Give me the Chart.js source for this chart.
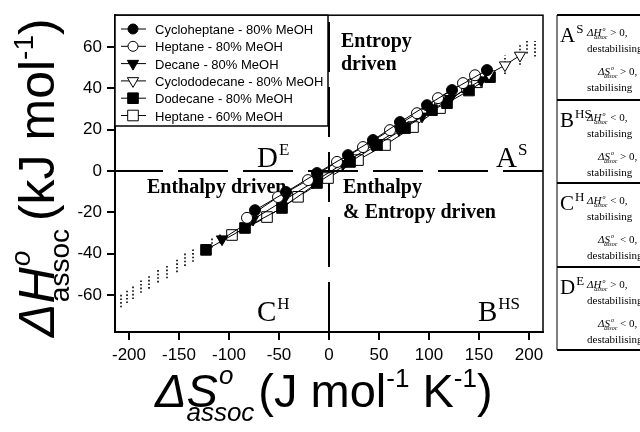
<!DOCTYPE html>
<html>
<head>
<meta charset="utf-8">
<script src="https://cdn.jsdelivr.net/npm/chart.js@4.4.1/dist/chart.umd.min.js"></script>
<style>
  html, body { margin: 0; padding: 0; background: #fff; }
</style>
</head>
<body>
<canvas id="chart" width="640" height="432"></canvas>
<script>
const SANS = '"Liberation Sans", Arial, sans-serif'
const SERIF = '"Liberation Serif", "Times New Roman", serif'

// axis ticks
const xTicks = [-200, -150, -100, -50, 0, 50, 100, 150, 200]
const yTicks = [-60, -40, -20, 0, 20, 40, 60]

// series: dS (J mol-1 K-1) and dH (kJ mol-1)
const names = ['Cycloheptane - 80% MeOH', 'Heptane - 80% MeOH', 'Decane - 80% MeOH',
  'Cyclododecane - 80% MeOH', 'Dodecane - 80% MeOH', 'Heptane - 60% MeOH']

const cycloheptaneS = [-74, -43, -12, 19, 44, 71, 98, 123, 158]
const cycloheptaneH = [-19, -10.2, -1, 7.7, 15, 23.7, 31.9, 39.2, 48.9]

const heptane80S = [-82, -51, -21, 8, 34, 61, 88, 109, 134, 146]
const heptane80H = [-22.7, -12.6, -4.4, 4.4, 11.6, 19.8, 28, 35.3, 42.6, 46.4]

const decaneS = [-107, -76, -46, -16, 14, 44, 70, 93, 121, 152]
const decaneH = [-33, -23.5, -14.5, -5.5, 3.5, 12.5, 20, 26.5, 35, 44]

const cyclododecaneS = [160, 176, 191]
const cyclododecaneH = [47, 51.3, 56]

const dodecaneS = [-123, -84, -47, -12, 21, 48, 76, 103, 118, 140, 161]
const dodecaneH = [-38.2, -27.6, -17.9, -5.8, 4.4, 12.6, 20.8, 29.5, 32.9, 39, 45.5]

const heptane60S = [-97, -62, -31, -1, 29, 56, 84, 111, 138, 148]
const heptane60H = [-31, -22.3, -12.5, -3.4, 5.3, 12.6, 21.3, 30.5, 40.6, 43]

// dotted error bars
const errS = [-208, -202, -196, -188, -180, -171, -162, -152, -144, -136, -117, -109, 176, 191, 198, 206]
const errLow = [-66, -64, -62, -59, -57, -54, -52, -49, -46, -44, -37, -35, 47, 51.5, 57, 55.5]
const errHigh = [-59, -57, -55, -53, -50, -48, -45, -42, -40, -37, -32, -30, 56, 61, 64, 63]

// side table
const panelTag = ['A', 'B', 'C', 'D']
const panelSup = ['S', 'HS', 'H', 'E']
const panelH = ['> 0,', '< 0,', '< 0,', '> 0,']
const panelHText = ['destabilising', 'stabilising', 'stabilising', 'destabilising']
const panelS = ['> 0,', '> 0,', '< 0,', '< 0,']
const panelSText = ['stabilising', 'stabilising', 'destabilising', 'destabilising']

const styles = [
  { style: 'circle', fill: '#000', r: 5.5 },
  { style: 'circle', fill: '#fff', r: 5.5 },
  { style: 'triangle', fill: '#000', r: 6.5, rot: 180 },
  { style: 'triangle', fill: '#fff', r: 6.5, rot: 180 },
  { style: 'rect', fill: '#000', r: 7.5 },
  { style: 'rect', fill: '#fff', r: 7.5 }
]
const sets = [
  [cycloheptaneS, cycloheptaneH], [heptane80S, heptane80H], [decaneS, decaneH],
  [cyclododecaneS, cyclododecaneH], [dodecaneS, dodecaneH], [heptane60S, heptane60H]
]

const datasets = sets.map((s, i) => ({
  label: names[i],
  data: s[0].map((v, j) => ({ x: v, y: s[1][j] })),
  showLine: true,
  borderColor: '#000',
  borderWidth: 1,
  pointStyle: styles[i].style,
  pointRotation: styles[i].rot || 0,
  pointRadius: styles[i].r,
  pointBackgroundColor: styles[i].fill,
  pointBorderColor: '#000',
  pointBorderWidth: 1
}))

const errData = []
errS.forEach((s, i) => {
  errData.push({ x: s, y: errLow[i] }, { x: s, y: errHigh[i] }, { x: s, y: null })
})
datasets.push({
  label: 'err',
  data: errData,
  showLine: true,
  spanGaps: false,
  borderColor: '#000',
  borderWidth: 1.6,
  borderDash: [1.6, 2],
  pointRadius: 0
})

function marker (ctx, st, x, y) {
  ctx.save()
  ctx.fillStyle = st.fill
  ctx.strokeStyle = '#000'
  ctx.lineWidth = 1
  ctx.beginPath()
  if (st.style === 'circle') {
    ctx.arc(x, y, st.r - 0.5, 0, Math.PI * 2)
  } else if (st.style === 'rect') {
    const h = st.r * Math.SQRT1_2
    ctx.rect(x - h, y - h, 2 * h, 2 * h)
  } else {
    const r = st.r
    ctx.moveTo(x, y + r)
    ctx.lineTo(x - r * 0.866, y - r * 0.5)
    ctx.lineTo(x + r * 0.866, y - r * 0.5)
    ctx.closePath()
  }
  ctx.fill()
  ctx.stroke()
  ctx.restore()
}

// ΔX°assoc with superscript and subscript, returns end x
function quantity (ctx, x, y, letter, size, font, subItalic) {
  ctx.font = 'italic ' + size + 'px ' + font
  ctx.fillText('\u0394' + letter, x, y)
  const w = ctx.measureText('\u0394' + letter).width
  const small = Math.round(size * 0.55)
  ctx.font = 'italic ' + small + 'px ' + font
  ctx.fillText('o', x + w + 1, y - size * 0.48)
  const wo = ctx.measureText('o').width
  ctx.font = (subItalic ? 'italic ' : '') + small + 'px ' + font
  const sx = x + w * 0.5
  ctx.fillText('assoc', sx, y + size * 0.3)
  const ws = ctx.measureText('assoc').width
  return Math.max(x + w + 1 + wo, sx + ws)
}

function runs (ctx, x, y, size, font, parts) {
  parts.forEach(p => {
    const sz = p[1] ? Math.round(size * 0.55) : size
    ctx.font = sz + 'px ' + font
    ctx.fillText(p[0], x, y - (p[1] ? size * 0.42 : 0))
    x += ctx.measureText(p[0]).width
  })
  return x
}

function tagText (ctx, x, y, tag, sup, size) {
  ctx.font = size + 'px ' + SERIF
  ctx.fillText(tag, x, y)
  const w = ctx.measureText(tag).width
  ctx.font = Math.round(size * 0.6) + 'px ' + SERIF
  ctx.fillText(sup, x + w + 1, y - size * 0.42)
}

const decor = {
  id: 'decor',
  beforeDatasetsDraw (chart) {
    const { ctx, chartArea: a, scales: { x, y } } = chart
    const x0 = x.getPixelForValue(0)
    const y0 = y.getPixelForValue(0)
    ctx.save()
    ctx.strokeStyle = '#000'
    ctx.lineWidth = 2
    ctx.setLineDash([50, 15])
    ctx.lineDashOffset = 2
    ctx.beginPath(); ctx.moveTo(a.left, y0); ctx.lineTo(a.right, y0); ctx.stroke()
    ctx.lineDashOffset = 0
    ctx.beginPath(); ctx.moveTo(x0, a.bottom); ctx.lineTo(x0, a.top); ctx.stroke()
    ctx.setLineDash([])
    ctx.lineWidth = 1.5
    ctx.strokeRect(a.left, a.top, a.right - a.left, a.bottom - a.top)

    ctx.fillStyle = '#000'
    ctx.textBaseline = 'alphabetic'
    ctx.textAlign = 'left'
    ctx.font = 'bold 20px ' + SERIF
    ctx.fillText('Entropy', 341, 47)
    ctx.fillText('driven', 341, 70)
    ctx.fillText('Enthalpy driven', 147, 193)
    ctx.fillText('Enthalpy', 343, 193)
    ctx.fillText('& Entropy driven', 343, 218)
    tagText(ctx, 257, 167, 'D', 'E', 29)
    tagText(ctx, 496, 167, 'A', 'S', 29)
    tagText(ctx, 257, 321, 'C', 'H', 29)
    tagText(ctx, 478, 321, 'B', 'HS', 29)
    ctx.restore()
  },
  afterDraw (chart) {
    const { ctx, chartArea: a } = chart
    ctx.save()
    ctx.fillStyle = '#000'
    ctx.strokeStyle = '#000'
    ctx.textBaseline = 'alphabetic'
    ctx.textAlign = 'left'

    // legend box
    const lt = a.top, lb = 126, ll = a.left, lr = 328
    ctx.fillStyle = '#fff'
    ctx.fillRect(ll, lt, lr - ll, lb - lt)
    ctx.lineWidth = 1.5
    ctx.strokeRect(ll, lt, lr - ll, lb - lt)
    names.forEach((n, i) => {
      const yy = 29 + i * 17.3
      ctx.fillStyle = '#fff'
      ctx.font = '13px ' + SANS
      const w = ctx.measureText(n).width
      ctx.fillRect(153, yy - 8, w + 4, 16)
      ctx.beginPath(); ctx.lineWidth = 1
      ctx.moveTo(121, yy); ctx.lineTo(146, yy); ctx.stroke()
      marker(ctx, styles[i], 133, yy)
      ctx.fillStyle = '#000'
      ctx.fillText(n, 155, yy + 5)
    })

    // axis titles
    ctx.fillStyle = '#000'
    let ex = quantity(ctx, 155, 407, 'S', 47, SANS, true)
    runs(ctx, ex + 4, 407, 47, SANS, [['(J mol', 0], ['-1', 1], [' K', 0], ['-1', 1], [')', 0]])

    ctx.save()
    ctx.translate(54, 337)
    ctx.rotate(-Math.PI / 2)
    ex = quantity(ctx, 0, 0, 'H', 50, SANS, false)
    runs(ctx, ex + 8, 0, 50, SANS, [['(kJ mol', 0], ['-1', 1], [')', 0]])
    ctx.restore()

    // side table
    const pl = 557
    const rows = [15, 100, 183, 267, 350]
    ctx.lineWidth = 1
    ctx.beginPath(); ctx.moveTo(pl, rows[0]); ctx.lineTo(pl, rows[4]); ctx.stroke()
    ctx.lineWidth = 2
    rows.forEach(r => { ctx.beginPath(); ctx.moveTo(pl, r); ctx.lineTo(640, r); ctx.stroke() })
    panelTag.forEach((t, i) => {
      const T = rows[i]
      ctx.fillStyle = '#000'
      tagText(ctx, pl + 3, T + 27, t, panelSup[i], 21)
      let e = quantity(ctx, 587, T + 21, 'H', 11, SERIF, true)
      ctx.font = '11px ' + SERIF
      ctx.fillText(' ' + panelH[i], e, T + 21)
      ctx.fillText(panelHText[i], 587, T + 37)
      e = quantity(ctx, 598, T + 60, 'S', 11, SERIF, true)
      ctx.font = '11px ' + SERIF
      ctx.fillText(' ' + panelS[i], e, T + 60)
      ctx.fillText(panelSText[i], 587, T + 76)
    })
    ctx.restore()
  }
}

new Chart(document.getElementById('chart'), {
  type: 'scatter',
  data: { datasets: datasets },
  options: {
    responsive: false,
    animation: false,
    devicePixelRatio: 1,
    layout: { padding: { top: 15, right: 97, left: 0, bottom: 0 } },
    plugins: { legend: { display: false }, tooltip: { enabled: false } },
    scales: {
      x: {
        type: 'linear',
        min: -214,
        max: 214,
        afterBuildTicks: s => { s.ticks = xTicks.map(v => ({ value: v })) },
        afterFit: s => { s.height = 100 },
        grid: { drawOnChartArea: false, drawTicks: true, tickLength: 8, color: '#000', lineWidth: 2 },
        border: { color: '#000', width: 2 },
        ticks: { color: '#000', font: { family: SANS, size: 17 }, padding: 5, maxRotation: 0 }
      },
      y: {
        type: 'linear',
        min: -78,
        max: 75.5,
        afterBuildTicks: s => { s.ticks = yTicks.map(v => ({ value: v })) },
        afterFit: s => { s.width = 115 },
        grid: { drawOnChartArea: false, drawTicks: true, tickLength: 8, color: '#000', lineWidth: 2 },
        border: { color: '#000', width: 2 },
        ticks: { color: '#000', font: { family: SANS, size: 17 }, padding: 5 }
      }
    }
  },
  plugins: [decor]
})
</script>
</body>
</html>
